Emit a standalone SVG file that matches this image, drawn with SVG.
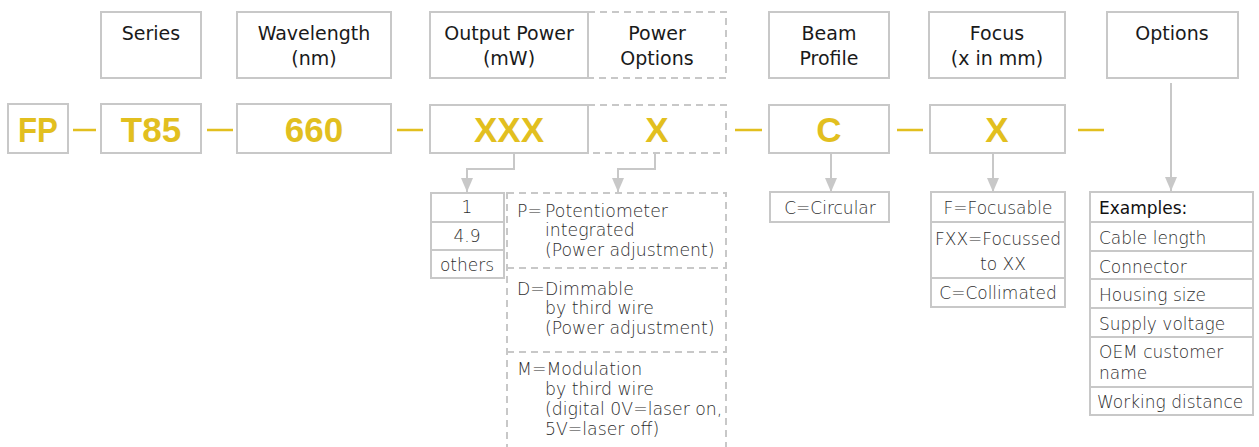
<svg xmlns="http://www.w3.org/2000/svg" width="1259" height="447" viewBox="0 0 1259 447">
<defs>
<style>
.box{fill:#fff;stroke:#c8c8c8;stroke-width:2}
.dbox{fill:none;stroke:#c8c8c8;stroke-width:2;stroke-dasharray:7 5}
.div{stroke:#c8c8c8;stroke-width:2;fill:none}
.ddiv{stroke:#c8c8c8;stroke-width:2;fill:none;stroke-dasharray:7 5}
.hd{font-family:"DejaVu Sans","Liberation Sans",sans-serif;font-size:19px;fill:#1a1a1a;text-anchor:middle}
.code{font-family:"Liberation Sans",Arial,sans-serif;font-weight:bold;font-size:35px;fill:#e2bf1f;text-anchor:middle}
.li{font-family:"DejaVu Sans","Liberation Sans",sans-serif;font-size:17px;fill:#2e2e2e;font-weight:300}
.lc{text-anchor:middle}
.po{font-size:17.3px}
.dash{stroke:#e2bf1f;stroke-width:2.5}
.conn{fill:none;stroke:#c8c8c8;stroke-width:2}
</style>
<marker id="ah" viewBox="0 0 14 12" refX="14" refY="6" markerWidth="14" markerHeight="12" markerUnits="userSpaceOnUse" orient="auto">
<path d="M0,0 L14,6 L0,12 z" fill="#c8c8c8"/>
</marker>
</defs>
<rect width="1259" height="447" fill="#fff"/>

<g id="connectors">
<path class="conn" d="M514,153 V169 H467 V192" marker-end="url(#ah)"/>
<path class="conn" d="M655,153 V169 H618 V192" marker-end="url(#ah)"/>
<path class="conn" d="M831,153 V192" marker-end="url(#ah)"/>
<path class="conn" d="M993,153 V192" marker-end="url(#ah)"/>
<path class="conn" d="M1171,83 V191" marker-end="url(#ah)"/>
<line class="dash" x1="73" y1="130" x2="96" y2="130"/>
<line class="dash" x1="207" y1="130" x2="233" y2="130"/>
<line class="dash" x1="397" y1="130" x2="423" y2="130"/>
<line class="dash" x1="735" y1="130" x2="762" y2="130"/>
<line class="dash" x1="897" y1="130" x2="923" y2="130"/>
<line class="dash" x1="1078" y1="130" x2="1104" y2="130"/>
</g>

<g id="h-series"><rect class="box" x="101" y="12" width="100" height="66"/><text class="hd" x="151" y="40">Series</text></g>
<g id="h-wavelength"><rect class="box" x="237" y="12" width="154" height="66"/><text class="hd" x="314" y="40">Wavelength</text><text class="hd" x="314" y="65">(nm)</text></g>
<g id="h-output"><rect class="box" x="430" y="12" width="158" height="66"/><text class="hd" x="509" y="40">Output Power</text><text class="hd" x="509" y="65">(mW)</text></g>
<g id="h-poweropt"><rect class="dbox" x="588" y="12" width="138" height="66"/><text class="hd" x="657" y="40">Power</text><text class="hd" x="657" y="65">Options</text></g>
<g id="h-beam"><rect class="box" x="769" y="12" width="120" height="66"/><text class="hd" x="829" y="40">Beam</text><text class="hd" x="829" y="65">Profile</text></g>
<g id="h-focus"><rect class="box" x="929" y="12" width="136" height="66"/><text class="hd" x="997" y="40">Focus</text><text class="hd" x="997" y="65">(x in mm)</text></g>
<g id="h-options"><rect class="box" x="1107" y="12" width="131" height="66"/><text class="hd" x="1172" y="40">Options</text></g>

<g id="c-fp"><rect class="box" x="8" y="104" width="60" height="49"/><text class="code" x="38" y="142" textLength="40" lengthAdjust="spacingAndGlyphs">FP</text></g>
<g id="c-t85"><rect class="box" x="101" y="104" width="100" height="49"/><text class="code" x="151" y="142">T85</text></g>
<g id="c-660"><rect class="box" x="237" y="104" width="154" height="49"/><text class="code" x="314" y="142">660</text></g>
<g id="c-xxx"><rect class="box" x="430" y="105" width="158" height="48"/><text class="code" x="509" y="142">XXX</text></g>
<g id="c-x1"><rect class="dbox" x="588" y="105" width="138" height="48"/><text class="code" x="657" y="142">X</text></g>
<g id="c-c"><rect class="box" x="769" y="105" width="120" height="48"/><text class="code" x="829" y="142">C</text></g>
<g id="c-x2"><rect class="box" x="930" y="105" width="135" height="48"/><text class="code" x="997" y="142">X</text></g>

<g id="l-power">
<rect class="box" x="431" y="193" width="73" height="85"/>
<line class="div" x1="431" y1="222" x2="504" y2="222"/>
<line class="div" x1="431" y1="250" x2="504" y2="250"/>
<text class="li lc" x="467" y="213">1</text>
<text class="li lc" x="467" y="242">4.9</text>
<text class="li lc" x="467" y="271">others</text>
</g>

<g id="l-poweropt">
<rect class="dbox" x="507" y="193" width="219" height="270"/>
<line class="ddiv" x1="507" y1="268" x2="726" y2="268"/>
<line class="ddiv" x1="507" y1="352" x2="726" y2="352"/>
<text class="li po" x="517" y="217">P=</text><text class="li po" x="545" y="217">Potentiometer</text>
<text class="li po" x="545" y="236">integrated</text>
<text class="li po" x="545" y="256">(Power adjustment)</text>
<text class="li po" x="517" y="295">D=</text><text class="li po" x="545" y="295">Dimmable</text>
<text class="li po" x="545" y="314">by third wire</text>
<text class="li po" x="545" y="334">(Power adjustment)</text>
<text class="li po" x="517" y="375">M=Modulation</text>
<text class="li po" x="545" y="395">by third wire</text>
<text class="li po" x="545" y="415">(digital 0V=laser on,</text>
<text class="li po" x="545" y="435">5V=laser off)</text>
</g>

<g id="l-beam">
<rect class="box" x="770" y="192" width="119" height="30"/>
<text class="li lc" x="830" y="214">C=Circular</text>
</g>

<g id="l-focus">
<rect class="box" x="931" y="192" width="134" height="115"/>
<line class="div" x1="931" y1="222" x2="1065" y2="222"/>
<line class="div" x1="931" y1="278" x2="1065" y2="278"/>
<text class="li lc" x="998" y="214">F=Focusable</text>
<text class="li lc" x="998" y="245">FXX=Focussed</text>
<text class="li lc" x="1003" y="270">to XX</text>
<text class="li lc" x="998" y="299">C=Collimated</text>
</g>

<g id="l-options">
<rect class="box" x="1090" y="192" width="163" height="223"/>
<line class="div" x1="1090" y1="222" x2="1253" y2="222"/>
<line class="div" x1="1090" y1="251" x2="1253" y2="251"/>
<line class="div" x1="1090" y1="279" x2="1253" y2="279"/>
<line class="div" x1="1090" y1="308" x2="1253" y2="308"/>
<line class="div" x1="1090" y1="337" x2="1253" y2="337"/>
<line class="div" x1="1090" y1="387" x2="1253" y2="387"/>
<text class="li" x="1099" y="214" style="fill:#111;font-weight:normal">Examples:</text>
<text class="li" x="1099" y="244">Cable length</text>
<text class="li" x="1099" y="273">Connector</text>
<text class="li" x="1099" y="301">Housing size</text>
<text class="li" x="1099" y="330">Supply voltage</text>
<text class="li" x="1099" y="358">OEM customer</text>
<text class="li" x="1099" y="379">name</text>
<text class="li" x="1097" y="408">Working distance</text>
</g>
</svg>
